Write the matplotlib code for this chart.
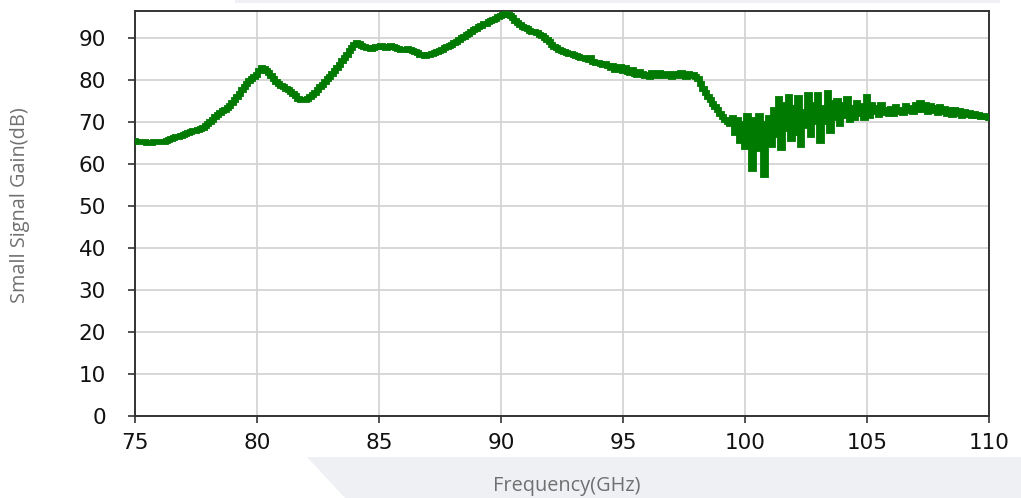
import numpy as np
import matplotlib
matplotlib.use("Agg")
import matplotlib.pyplot as plt
from matplotlib.patches import Polygon, Rectangle

# Frequency grid (GHz) and measured small signal gain (dB)
freq_start, freq_stop, freq_step = 75.0, 110.0, 0.1
gain_db = [
    65.6, 65.4, 65.3, 65.2, 65.2, 65.1, 65.0, 65.1, 65.2, 65.2,   # 75
    65.2, 65.3, 65.4, 65.6, 65.8, 66.0, 66.2, 66.4, 66.5, 66.7,   # 76
    66.9, 67.2, 67.5, 67.7, 67.9, 68.0, 68.2, 68.4, 68.6, 69.0,   # 77
    69.5, 70.0, 70.6, 71.2, 71.7, 72.2, 72.7, 73.0, 73.4, 73.9,   # 78
    74.5, 75.2, 76.0, 76.8, 77.6, 78.4, 79.2, 79.9, 80.4, 80.8,   # 79
    81.2, 82.2, 82.8, 82.7, 82.3, 81.8, 81.0, 80.2, 79.5, 79.0,   # 80
    78.7, 78.4, 78.0, 77.7, 77.3, 76.8, 76.2, 75.6, 75.3, 75.2,   # 81
    75.3, 75.6, 76.0, 76.5, 77.0, 77.6, 78.3, 78.9, 79.6, 80.2,   # 82
    80.8, 81.5, 82.2, 82.9, 83.7, 84.5, 85.3, 86.1, 86.9, 87.7,   # 83
    88.4, 88.9, 88.6, 88.2, 88.0, 87.8, 87.6, 87.5, 87.7, 87.9,   # 84
    88.0, 88.2, 88.0, 87.8, 87.9, 88.1, 87.9, 87.7, 87.5, 87.3,   # 85
    87.2, 87.3, 87.4, 87.2, 87.0, 86.7, 86.4, 86.1, 85.9, 85.8,   # 86
    85.9, 86.1, 86.3, 86.5, 86.8, 87.0, 87.3, 87.6, 87.9, 88.2,   # 87
    88.5, 88.9, 89.2, 89.6, 90.0, 90.3, 90.7, 91.1, 91.5, 91.9,   # 88
    92.3, 92.7, 93.0, 93.3, 93.5, 93.8, 94.1, 94.4, 94.7, 95.0,   # 89
    95.2, 95.5, 95.7, 95.6, 95.3, 94.8, 94.2, 93.6, 93.1, 92.7,   # 90
    92.4, 92.1, 91.8, 91.6, 91.4, 91.2, 90.9, 90.5, 90.0, 89.5,   # 91
    89.0, 88.5, 88.0, 87.6, 87.3, 87.0, 86.7, 86.5, 86.3, 86.2,   # 92
    86.0, 85.8, 85.6, 85.4, 85.2, 85.0, 84.8, 85.2, 84.4, 84.2,   # 93
    84.0, 83.8, 83.6, 83.9, 83.3, 82.8, 83.5, 82.5, 82.7, 83.2,   # 94
    82.2, 82.9, 82.0, 81.8, 82.4, 81.6, 81.2, 82.0, 81.5, 81.0,   # 95
    81.3, 80.8, 81.8, 81.4, 81.0, 81.7, 81.3, 80.9, 81.6, 81.2,   # 96
    80.8, 81.5, 81.2, 80.9, 81.7, 81.3, 80.8, 81.4, 81.0, 81.2,   # 97
    80.8, 80.2, 79.2, 78.0, 76.9, 76.0, 75.2, 74.4, 73.6, 72.8,   # 98
    72.0, 71.3, 70.6, 70.0, 69.5, 71.0, 67.5, 70.5, 65.5, 69.5,   # 99
    64.0, 71.5, 66.0, 58.8, 70.5, 63.5, 71.5, 66.0, 57.4, 69.5,   # 100
    71.0, 64.5, 73.0, 67.0, 75.5, 63.8, 74.0, 68.5, 76.0, 66.0,   # 101
    73.5, 67.5, 75.8, 64.5, 72.5, 69.0, 76.5, 67.0, 74.0, 70.0,   # 102
    76.5, 65.5, 73.5, 70.0, 77.0, 68.0, 74.5, 71.0, 75.0, 69.5,   # 103
    74.0, 71.5, 75.5, 70.5, 73.5, 71.0, 74.5, 72.0, 73.8, 71.0,   # 104
    76.0, 71.5, 74.0, 72.5, 73.5, 71.8, 74.2, 72.3, 73.0, 72.0,   # 105
    73.2, 72.0, 73.6, 72.4, 73.0, 72.2, 73.8, 72.6, 73.4, 72.5,   # 106
    74.0, 72.8, 74.5, 73.0, 74.2, 72.5, 73.8, 72.7, 73.5, 72.3,   # 107
    73.6, 72.4, 73.2, 72.0, 73.0, 71.8, 72.8, 72.0, 72.6, 71.6,   # 108
    72.4, 71.8, 72.2, 71.5, 72.0, 71.4, 71.8, 71.3, 71.6, 71.2,   # 109
    71.0,                                                         # 110
]
freq_ghz = np.round(np.arange(len(gain_db)) * freq_step + freq_start, 2)

x_ticks = [75, 80, 85, 90, 95, 100, 105, 110]
y_ticks = [0, 10, 20, 30, 40, 50, 60, 70, 80, 90]
x_label = "Frequency(GHz)"
y_label = "Small Signal Gain(dB)"

W, H = 1021, 498
fig = plt.figure(figsize=(W / 100, H / 100), dpi=100)
fig.patch.set_facecolor("white")

# background decorations
band_color = "#eef0f4"
fig.patches.append(Polygon([[307 / W, 1 - 457 / H], [1.0, 1 - 457 / H], [1.0, 0.0], [345 / W, 0.0]],
                           closed=True, transform=fig.transFigure, facecolor=band_color,
                           edgecolor="none", zorder=0))
fig.patches.append(Rectangle((235 / W, 1 - 3 / H), (1000 - 235) / W, 3 / H,
                             transform=fig.transFigure, facecolor=band_color,
                             edgecolor="none", zorder=0))

ax = fig.add_axes([135 / W, 1 - 416 / H, 854 / W, 405 / H])
ax.set_facecolor("white")
ax.plot(freq_ghz, gain_db, color="#007a00", lw=4.2, drawstyle="steps-mid",
        solid_joinstyle="miter", zorder=3)

ax.set_xlim(75, 110)
ax.set_ylim(0, 96.5)
ax.set_xticks(x_ticks)
ax.set_yticks(y_ticks)
ax.grid(True, color="#d4d4d4", lw=1.3)
ax.set_axisbelow(True)
for side in ["left", "bottom", "top", "right"]:
    ax.spines[side].set_color("#333333")
    ax.spines[side].set_linewidth(1.4)
ax.tick_params(axis="both", direction="out", length=5, width=1.2, color="#333333",
               labelsize=15.5, labelcolor="#111111")
ax.tick_params(axis="y", pad=16)
ax.tick_params(axis="x", pad=7)

fig.text(567 / W, 1 - 486 / H, x_label, ha="center", va="center",
         fontsize=14.3, color="#707070", family="Open Sans")
fig.text(20 / W, 1 - 205 / H, y_label, ha="center", va="center", rotation=90,
         fontsize=14.3, color="#707070", family="Open Sans")

fig.savefig("out.png", dpi=100)
